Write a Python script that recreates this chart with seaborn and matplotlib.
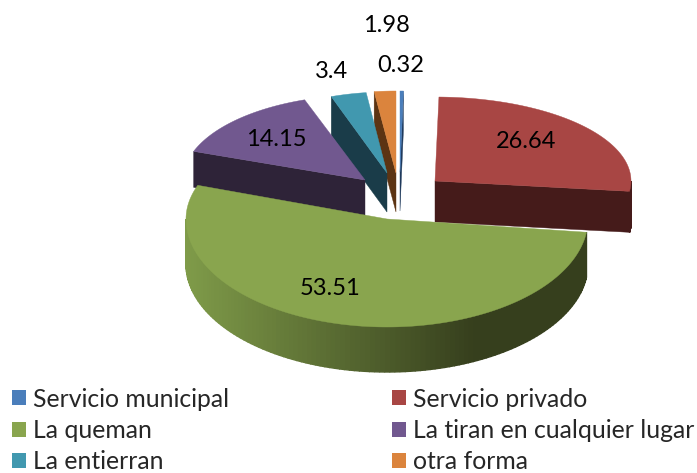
import numpy as np
import matplotlib
matplotlib.use('Agg')
import matplotlib.pyplot as plt
from matplotlib.patches import Polygon, Patch
from matplotlib.colors import to_rgb
import seaborn as sns

# values
categories = ['Servicio municipal', 'Servicio privado', 'La queman',
              'La tiran en cualquier lugar', 'La entierran', 'otra forma']
values = [0.32, 26.64, 53.51, 14.15, 3.4, 1.98]
value_labels = ['0.32', '26.64', '53.51', '14.15', '3.4', '1.98']

colors = ['#4a7ebb', '#a84644', '#89a54e', '#71588f', '#4198af', '#db843d']
dark_colors = ['#1f3a5c', '#451b1a', '#363f1d', '#2e2338', '#1a3c49', '#5c3413']

# pixel layout of the exploded slices: cx, cy, rx, ry back, ry front, depth
layout = [
    (400, 172, 170, 81, 81, 39),
    (435, 181, 196, 84, 84, 41),
    (387, 219, 201, 100, 108, 45),
    (365, 180, 182, 85, 85, 36),
    (387, 173, 168, 81, 81, 39),
    (396, 173, 176, 82, 82, 39),
]
label_pos = [(401, 65), (526, 141), (330, 288), (276, 139), (331, 71), (386, 26)]
draw_order = [0, 5, 4, 3, 1, 2]

sns.set_theme(style='white')
plt.rcParams['font.family'] = ['Lato', 'DejaVu Sans']

fig = plt.figure(figsize=(6.97, 4.73), dpi=100)
ax = fig.add_axes([0, 0, 1, 1])
ax.set_xlim(0, 697)
ax.set_ylim(473, 0)
ax.axis('off')

edges = np.concatenate([[0], np.cumsum(values)]) / sum(values) * 360


def rim(theta, box):
    cx, cy, rx, ryb, ryf, depth = box
    t = np.radians(theta)
    c = np.cos(t)
    ry = np.where(c > 0, ryb, ryf)
    return np.column_stack([cx + rx * np.sin(t), cy - ry * c])


def mix(c1, c2, f):
    return tuple(np.array(to_rgb(c1)) * (1 - f) + np.array(to_rgb(c2)) * f)


for i in draw_order:
    box = layout[i]
    cx, cy, rx, ryb, ryf, depth = box
    a0, a1 = edges[i], edges[i + 1]
    apex = (cx, cy)
    apex_low = (cx, cy + depth)

    # cut faces turned to the viewer
    if np.sin(np.radians(a1)) > 0.001:
        p = rim(np.array([a1]), box)[0]
        ax.add_patch(Polygon([apex, p, (p[0], p[1] + depth), apex_low],
                             fc=dark_colors[i], ec=dark_colors[i], lw=0.3))
    if np.sin(np.radians(a0)) < -0.001:
        p = rim(np.array([a0]), box)[0]
        ax.add_patch(Polygon([apex, p, (p[0], p[1] + depth), apex_low],
                             fc=dark_colors[i], ec=dark_colors[i], lw=0.3))

    # outer wall, only the front half of the rim shows
    w0, w1 = max(a0, 90), min(a1, 270)
    if w1 > w0:
        steps = np.linspace(w0, w1, 121)
        for s0, s1 in zip(steps[:-1], steps[1:]):
            top = rim(np.array([s0, s1]), box)
            low = top + [0, depth]
            xpos = (top[0, 0] - (cx - rx)) / (2 * rx)
            if i == 2:
                # wall of the big slice fades from light on the left to dark on the right
                f = min(xpos / 0.72, 1)
                col = mix('#7f9b49', dark_colors[2], f)
            else:
                col = dark_colors[i]
            # thick edge closes the seams between the strips
            ax.add_patch(Polygon(np.vstack([top, low[::-1]]), fc=col, ec=col, lw=1.0))

    # top face
    arc = rim(np.linspace(a0, a1, 200), box)
    ax.add_patch(Polygon(np.vstack([[apex], arc]), fc=colors[i], ec=colors[i], lw=0.3))

for txt, (x, y) in zip(value_labels, label_pos):
    ax.text(x, y, txt, ha='center', va='center', fontsize=17, color='black')

# row order in the picture, matplotlib fills the columns first
leg_order = [0, 2, 4, 1, 3, 5]
handles = [Patch(fc=colors[k], ec='none') for k in leg_order]
labels = [categories[k] for k in leg_order]
fig.legend(handles, labels, ncol=2, loc='lower left', bbox_to_anchor=(12 / 697, 0.0),
           frameon=False, fontsize=17.8, borderpad=0, borderaxespad=0,
           handlelength=0.56, handleheight=0.56, handletextpad=0.28,
           labelspacing=0.33, columnspacing=6.6)

fig.savefig('out.png', dpi=100)
